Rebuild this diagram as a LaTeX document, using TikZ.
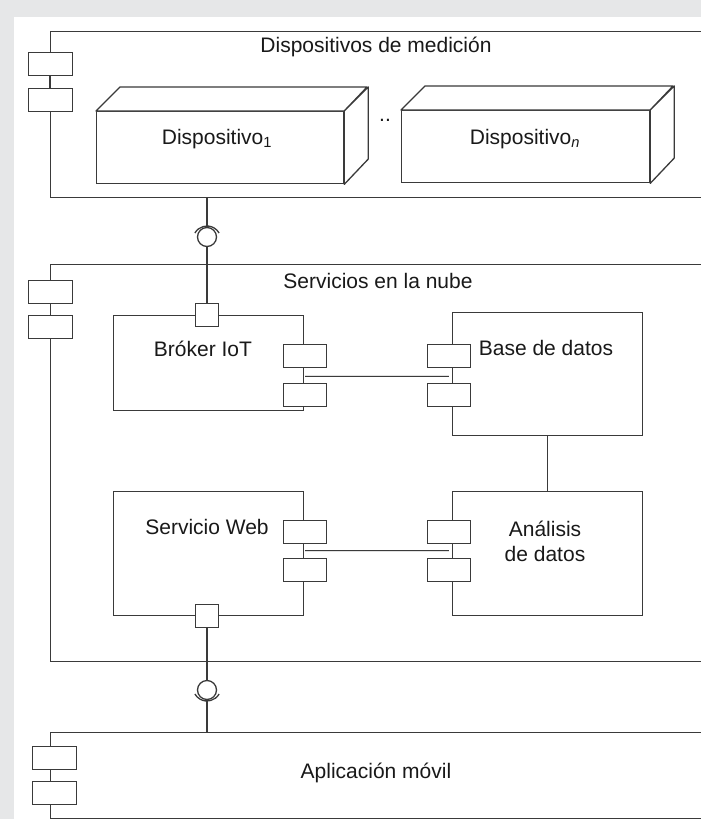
\documentclass[tikz,border=0pt]{standalone}
\usepackage{fontspec}
\setmainfont{Liberation Sans}
\usetikzlibrary{calc}
\definecolor{bggray}{HTML}{E6E7E8}
\definecolor{ink}{HTML}{3A3A3A}
\begin{document}
\begin{tikzpicture}[x=1pt,y=-1pt,
  every node/.style={font=\fontsize{21}{25}\selectfont, text=black!90},
  box/.style={draw=ink, line width=1.3pt, fill=white, inner sep=0pt, anchor=north west},
  tab/.style={draw=ink, line width=1.3pt, fill=white, inner sep=0pt, anchor=north west, minimum width=43pt, minimum height=23pt},
  port/.style={draw=ink, line width=1.3pt, fill=white, inner sep=0pt, minimum size=23pt},
  lbl/.style={inner sep=0pt, align=center},
  wire/.style={draw=ink, line width=1.3pt},
  dwire/.style={draw=ink, line width=0.7pt, double=white!85!ink, double distance=0.6pt}]
\useasboundingbox (0,0) rectangle (701,819);
\fill[bggray] (0,0) rectangle (701,819);
\fill[white] (14,17) rectangle (701,819);
\clip (0,0) rectangle (701,819);

% ---------- Dispositivos de medicion ----------
\node[box, minimum width=700pt, minimum height=166pt] (dev) at (50,31) {};
\node[lbl] (devlbl) at (376,47) {Dispositivos de medición};
\node[tab, minimum width=44pt] (devt1) at (28,52) {};
\node[tab, minimum width=44pt] (devt2) at (28,88) {};
\draw[wire] (devt1.south -| 50,0) -- (devt2.north -| 50,0);

% device 1 (3D box)
\node[box, minimum width=247pt, minimum height=72pt] (d1) at (96,111) {};
\filldraw[wire, fill=white, line join=round] (d1.north west) -- ++(24,-24) -- ++(247,0) -- (d1.north east) -- cycle;
\filldraw[wire, fill=white, line join=round] (d1.north east) -- ++(24,-24) -- ++(0,72) -- (d1.south east) -- cycle;
\node[lbl] (d1lbl) at (217,139) {Dispositivo\textsubscript{1}};

\node[lbl] (dots) at (385,120) {..};

% device n (3D box)
\node[box, minimum width=248pt, minimum height=72pt] (dn) at (401,110) {};
\filldraw[wire, fill=white, line join=round] (dn.north west) -- ++(24,-24) -- ++(248,0) -- (dn.north east) -- cycle;
\filldraw[wire, fill=white, line join=round] (dn.north east) -- ++(24,-24) -- ++(0,72) -- (dn.south east) -- cycle;
\node[lbl] (dnlbl) at (525,139) {Dispositivo\textsubscript{\itshape n}};

% ---------- Servicios en la nube ----------
\node[box, minimum width=700pt, minimum height=397pt] (serv) at (50,264) {};
\node[lbl] (servlbl) at (378,281) {Servicios en la nube};
\node[tab, minimum width=44pt] (servt1) at (28,280) {};
\node[tab, minimum width=44pt] (servt2) at (28,315) {};

% Broker IoT
\node[box, minimum width=190pt, minimum height=95pt] (brk) at (113,315) {};
\node[lbl] (brklbl) at (203,349) {Bróker IoT};
\node[port] (brkport) at (207,315) {};
\node[tab] (bt1) at (283,344) {};
\node[tab] (bt2) at (283,383) {};

% Base de datos
\node[box, minimum width=190pt, minimum height=123pt] (base) at (452,312) {};
\node[lbl] (baselbl) at (546,348) {Base de datos};
\node[tab] (dt1) at (427,344) {};
\node[tab] (dt2) at (427,383) {};

% Servicio Web
\node[box, minimum width=190pt, minimum height=124pt] (web) at (113,491) {};
\node[lbl] (weblbl) at (207,527) {Servicio Web};
\node[tab] (wt1) at (283,520) {};
\node[tab] (wt2) at (283,558) {};
\node[port] (webport) at (207,616) {};

% Analisis de datos
\node[box, minimum width=190pt, minimum height=124pt] (ana) at (452,491) {};
\node[lbl] (analbl) at (545,541) {Análisis\\de datos};
\node[tab] (at1) at (427,520) {};
\node[tab] (at2) at (427,558) {};

% internal connectors
\draw[dwire] ($(bt1.south)!0.5!(bt2.north)$) -- ($(dt1.south)!0.5!(dt2.north)$);
\draw[dwire] ($(wt1.south)!0.5!(wt2.north)$) -- ($(at1.south)!0.5!(at2.north)$);
\draw[wire] (base.south) -- (ana.north);

% ---------- Aplicacion movil ----------
\node[box, minimum width=700pt, minimum height=86pt] (app) at (50,732) {};
\node[lbl] (applbl) at (376,773) {Aplicación móvil};
\node[tab, minimum width=44pt] (appt1) at (32,746) {};
\node[tab, minimum width=44pt] (appt2) at (32,781) {};

% ---------- interface: devices -> broker ----------
\node[draw=ink, line width=1.3pt, circle, minimum size=19pt, inner sep=0pt] (ball1) at (207,237) {};
\coordinate (sock1c) at (207,240);
\draw[wire] ($(sock1c)+(210:14)$) arc[start angle=210, end angle=330, radius=14];
\coordinate (sock1top) at (207,226);
\draw[wire] (dev.south -| sock1top) -- (sock1top);
\draw[wire] (ball1.south) -- (brkport.north);

% ---------- interface: web -> app ----------
\node[draw=ink, line width=1.3pt, circle, minimum size=19pt, inner sep=0pt] (ball2) at (207,690) {};
\coordinate (sock2c) at (207,687);
\draw[wire] ($(sock2c)+(30:14)$) arc[start angle=30, end angle=150, radius=14];
\coordinate (sock2bot) at (207,701);
\draw[wire] (webport.south) -- (ball2.north);
\draw[wire] (sock2bot) -- (app.north -| sock2bot);
\end{tikzpicture}
\end{document}
